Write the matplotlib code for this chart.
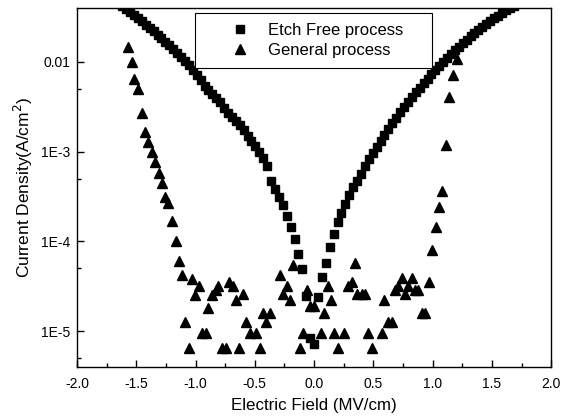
import numpy as np
import matplotlib
matplotlib.use("Agg")
import matplotlib.pyplot as plt
from matplotlib.ticker import FixedLocator, FixedFormatter, LogLocator, MultipleLocator, NullFormatter

plt.rcParams['font.family'] = ['Liberation Sans', 'DejaVu Sans']

# ---- Etch Free process (squares): field (MV/cm) and log10 current density (A/cm^2)
etch_x = [-1.617, -1.584, -1.551, -1.518, -1.485, -1.452, -1.419, -1.386, -1.353, -1.320,
          -1.287, -1.254, -1.221, -1.188, -1.155, -1.122, -1.089, -1.056, -1.023, -0.990,
          -0.957, -0.924, -0.891, -0.858, -0.825, -0.792, -0.759, -0.726, -0.693, -0.660,
          -0.627, -0.594, -0.561, -0.528, -0.495, -0.462, -0.429, -0.396, -0.363, -0.330,
          -0.297, -0.264, -0.231, -0.198, -0.165, -0.132, -0.099, -0.066, -0.033, 0.000,
          0.033, 0.066, 0.099, 0.132, 0.165, 0.198, 0.231, 0.264, 0.297, 0.330,
          0.363, 0.396, 0.429, 0.462, 0.495, 0.528, 0.561, 0.594, 0.627, 0.660,
          0.693, 0.726, 0.759, 0.792, 0.825, 0.858, 0.891, 0.924, 0.957, 0.990,
          1.023, 1.056, 1.089, 1.122, 1.155, 1.188, 1.221, 1.254, 1.287, 1.320,
          1.353, 1.386, 1.419, 1.452, 1.485, 1.518, 1.551, 1.584, 1.617, 1.650, 1.683]
etch_logJ = [-1.375, -1.409, -1.442, -1.476, -1.515, -1.548, -1.587, -1.621, -1.660, -1.699,
             -1.738, -1.777, -1.816, -1.855, -1.900, -1.944, -1.989, -2.033, -2.089, -2.145,
             -2.201, -2.268, -2.312, -2.357, -2.401, -2.446, -2.513, -2.569, -2.613, -2.658,
             -2.703, -2.758, -2.825, -2.887, -2.942, -3.009, -3.071, -3.160, -3.327, -3.416,
             -3.506, -3.600, -3.717, -3.840, -3.974, -4.141, -4.308, -4.610, -5.083, -5.145,
             -4.617, -4.401, -4.238, -4.066, -3.918, -3.790, -3.687, -3.587, -3.483, -3.391,
             -3.324, -3.249, -3.160, -3.085, -3.018, -2.945, -2.879, -2.813, -2.749, -2.686,
             -2.625, -2.563, -2.504, -2.447, -2.393, -2.340, -2.288, -2.238, -2.187, -2.139,
             -2.091, -2.046, -2.000, -1.957, -1.913, -1.872, -1.830, -1.791, -1.752, -1.716,
             -1.679, -1.644, -1.610, -1.577, -1.545, -1.515, -1.485, -1.455, -1.427, -1.399, -1.372]

# ---- General process (triangles)
gen_x = [-1.566, -1.537, -1.515, -1.481, -1.453, -1.425, -1.397, -1.368, -1.341, -1.307,
         -1.284, -1.256, -1.229, -1.200, -1.166, -1.138, -1.110, -1.088, -1.054, -1.026,
         -1.003, -0.970, -0.942, -0.911, -0.891, -0.858, -0.829, -0.807, -0.773, -0.742,
         -0.717, -0.680, -0.660, -0.630, -0.601, -0.576, -0.542, -0.489, -0.455, -0.433,
         -0.405, -0.371, -0.284, -0.259, -0.225, -0.202, -0.175, -0.116, -0.090, -0.062,
         -0.034, 0.000, 0.056, 0.084, 0.121, 0.141, 0.171, 0.200, 0.255, 0.289,
         0.318, 0.346, 0.365, 0.402, 0.430, 0.458, 0.487, 0.571, 0.593, 0.626,
         0.655, 0.683, 0.711, 0.745, 0.767, 0.795, 0.829, 0.852, 0.879, 0.908,
         0.936, 0.972, 0.998, 1.026, 1.057, 1.082, 1.110, 1.141, 1.168, 1.203]
gen_logJ = [-1.836, -2.003, -2.193, -2.304, -2.565, -2.784, -2.889, -3.007, -3.112, -3.235,
            -3.353, -3.502, -3.569, -3.770, -4.000, -4.216, -4.379, -4.896, -5.193, -4.420,
            -4.598, -4.498, -5.019, -5.019, -4.747, -4.598, -4.548, -4.498, -5.193, -5.193,
            -4.453, -4.498, -4.654, -5.193, -4.587, -4.896, -5.019, -5.019, -5.193, -4.796,
            -4.896, -4.796, -4.375, -4.587, -4.498, -4.654, -4.264, -5.193, -5.019, -4.548,
            -4.721, -4.721, -5.019, -4.796, -4.498, -4.654, -5.019, -5.193, -5.019, -4.498,
            -4.453, -4.245, -4.590, -4.590, -4.590, -5.019, -5.193, -5.019, -4.654, -4.896,
            -4.896, -4.548, -4.498, -4.414, -4.587, -4.498, -4.414, -4.548, -4.548, -4.796,
            -4.796, -4.453, -4.097, -3.843, -3.620, -3.435, -2.926, -2.394, -2.145, -1.972]

labels = ["Etch Free process", "General process"]
y_ticks = [1e-5, 1e-4, 1e-3, 1e-2]
y_ticklabels = ["1E-5", "1E-4", "1E-3", "0.01"]
x_ticks = [-2.0, -1.5, -1.0, -0.5, 0.0, 0.5, 1.0, 1.5, 2.0]

fig = plt.figure(figsize=(5.70, 4.18), dpi=100)
ax = fig.add_axes([0.135, 0.122, 0.832, 0.859])

ax.plot(etch_x, 10 ** np.array(etch_logJ), linestyle='none', marker='s', markersize=5.4,
        color='black', label=labels[0])
ax.plot(gen_x, 10 ** np.array(gen_logJ), linestyle='none', marker='^', markersize=6.6,
        color='black', label=labels[1])

ax.set_yscale('log')
ax.set_xlim(-2.0, 2.0)
ax.set_ylim(3.97e-6, 0.0399)

ax.yaxis.set_major_locator(FixedLocator(y_ticks))
ax.yaxis.set_major_formatter(FixedFormatter(y_ticklabels))
ax.yaxis.set_minor_locator(LogLocator(base=10, subs=(5.0,)))
ax.yaxis.set_minor_formatter(NullFormatter())
ax.xaxis.set_major_locator(FixedLocator(x_ticks))
ax.set_xticklabels([f"{v:.1f}" for v in x_ticks])
ax.xaxis.set_minor_locator(MultipleLocator(0.25))

ax.tick_params(which='both', direction='in', top=False, right=False, labelsize=10,
               width=1.0)
ax.tick_params(axis='x', which='major', pad=7)
ax.tick_params(axis='y', which='major', pad=5)
ax.tick_params(which='major', length=5)
ax.tick_params(which='minor', length=3)
for s in ax.spines.values():
    s.set_linewidth(1.0)

ax.set_xlabel("Electric Field (MV/cm)", fontsize=12.2, labelpad=5)
ax.set_ylabel("Current Density(A/cm$^2$)", fontsize=12.5, labelpad=4)

leg = ax.legend(loc='upper left', bbox_to_anchor=(0.249, 0.5, 0.5, 0.486), mode='expand',
                fontsize=12, frameon=True, fancybox=False, edgecolor='black', framealpha=1,
                handlelength=4.2, handletextpad=-0.4, borderpad=0.6, labelspacing=0.3,
                borderaxespad=0)
leg.get_frame().set_linewidth(0.8)

fig.savefig("out.png", dpi=100)
